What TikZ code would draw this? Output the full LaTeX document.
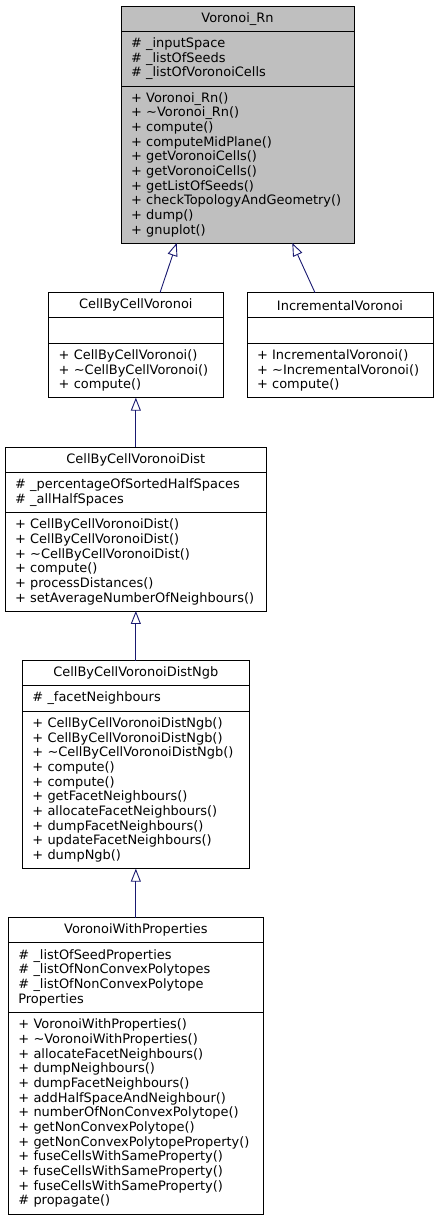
\documentclass[tikz,border=0pt]{standalone}
\usepackage{fontspec}
\setmainfont{DejaVu Sans}
\usepackage{tikz}
\usetikzlibrary{arrows.meta, positioning}
\definecolor{edgeblue}{RGB}{25,25,112}
\definecolor{highlight}{RGB}{191,191,191}
\tikzstyle{classbox} = [rectangle, draw=black, line width=0.9pt, inner xsep=10pt, inner ysep=0pt, outer sep=0pt, font=\fontsize{12.95}{14.67}\selectfont]
\tikzstyle{classtitle} = [classbox, align=center, minimum height=25pt]
\tikzstyle{members} = [classbox, align=left]
\tikzstyle{inherit} = [edgeblue, line width=0.9pt, -{Triangle[open, length=13pt, width=10pt]}]

\begin{document}
\begin{tikzpicture}[x=1pt, y=1pt, node distance = 49.6pt]
		\useasboundingbox (0,0) rectangle (438,1220);
		\node (VoronoiRn) [classtitle, fill=highlight, text width=213pt, minimum height=25.7pt, anchor=north] at (237.5,1214) {Voronoi\_Rn};
		\node (VoronoiRnAttr) [members, fill=highlight, text width=213pt, minimum height=54.3pt, below = 0pt of VoronoiRn] {\# \_inputSpace\\\# \_listOfSeeds\\\# \_listOfVoronoiCells};
		\node (VoronoiRnOps) [members, fill=highlight, text width=213pt, minimum height=157pt, below = 0pt of VoronoiRnAttr] {+ Voronoi\_Rn()\\+ \textasciitilde Voronoi\_Rn()\\+ compute()\\+ computeMidPlane()\\+ getVoronoiCells()\\+ getVoronoiCells()\\+ getListOfSeeds()\\+ checkTopologyAndGeometry()\\+ dump()\\+ gnuplot()};
		\node (CellByCellVoronoi) [classtitle, text width=154.3pt, anchor=north] at (135.85,927.3) {CellByCellVoronoi};
		\node (CellByCellVoronoiAttr) [members, text width=154.3pt, minimum height=25.6pt, below = 0pt of CellByCellVoronoi] {};
		\node (CellByCellVoronoiOps) [members, text width=154.3pt, minimum height=54.4pt, below = 0pt of CellByCellVoronoiAttr] {+ CellByCellVoronoi()\\+ \textasciitilde CellByCellVoronoi()\\+ compute()};
		\node (IncrementalVoronoi) [classtitle, text width=166pt, right = 24pt of CellByCellVoronoi] {IncrementalVoronoi};
		\node (IncrementalVoronoiAttr) [members, text width=166pt, minimum height=25.6pt, below = 0pt of IncrementalVoronoi] {};
		\node (IncrementalVoronoiOps) [members, text width=166pt, minimum height=54.4pt, below = 0pt of IncrementalVoronoiAttr] {+ IncrementalVoronoi()\\+ \textasciitilde IncrementalVoronoi()\\+ compute()};
		\node (CellByCellVoronoiDist) [classtitle, text width=241.7pt, minimum height=25.4pt, below = of CellByCellVoronoiOps] {CellByCellVoronoiDist};
		\node (CellByCellVoronoiDistAttr) [members, text width=241.7pt, minimum height=40pt, below = 0pt of CellByCellVoronoiDist] {\# \_percentageOfSortedHalfSpaces\\\# \_allHalfSpaces};
		\node (CellByCellVoronoiDistOps) [members, text width=241.7pt, minimum height=98.3pt, below = 0pt of CellByCellVoronoiDistAttr] {+ CellByCellVoronoiDist()\\+ CellByCellVoronoiDist()\\+ \textasciitilde CellByCellVoronoiDist()\\+ compute()\\+ processDistances()\\+ setAverageNumberOfNeighbours()};
		\node (CellByCellVoronoiDistNgb) [classtitle, text width=207pt, below = 49.7pt of CellByCellVoronoiDistOps] {CellByCellVoronoiDistNgb};
		\node (CellByCellVoronoiDistNgbAttr) [members, text width=207pt, minimum height=25.3pt, below = 0pt of CellByCellVoronoiDistNgb] {\# \_facetNeighbours};
		\node (CellByCellVoronoiDistNgbOps) [members, text width=207pt, minimum height=157.7pt, below = 0pt of CellByCellVoronoiDistNgbAttr] {+ CellByCellVoronoiDistNgb()\\+ CellByCellVoronoiDistNgb()\\+ \textasciitilde CellByCellVoronoiDistNgb()\\+ compute()\\+ compute()\\+ getFacetNeighbours()\\+ allocateFacetNeighbours()\\+ dumpFacetNeighbours()\\+ updateFacetNeighbours()\\+ dumpNgb()};
		\node (VoronoiWithProperties) [classtitle, text width=235pt, below = 49pt of CellByCellVoronoiDistNgbOps] {VoronoiWithProperties};
		\node (VoronoiWithPropertiesAttr) [members, text width=235pt, minimum height=70pt, below = 0pt of VoronoiWithProperties] {\# \_listOfSeedProperties\\\# \_listOfNonConvexPolytopes\\\# \_listOfNonConvexPolytope\\Properties};
		\node (VoronoiWithPropertiesOps) [members, text width=235pt, minimum height=201.3pt, below = 0pt of VoronoiWithPropertiesAttr] {+ VoronoiWithProperties()\\+ \textasciitilde VoronoiWithProperties()\\+ allocateFacetNeighbours()\\+ dumpNeighbours()\\+ dumpFacetNeighbours()\\+ addHalfSpaceAndNeighbour()\\+ numberOfNonConvexPolytope()\\+ getNonConvexPolytope()\\+ getNonConvexPolytopeProperty()\\+ fuseCellsWithSameProperty()\\+ fuseCellsWithSameProperty()\\+ fuseCellsWithSameProperty()\\\# propagate()};
		\draw [inherit] ([xshift=24.15pt]CellByCellVoronoi.north) -- ([xshift=-60.8pt]VoronoiRnOps.south);
		\draw [inherit] ([xshift=-25pt]IncrementalVoronoi.north) -- ([xshift=54.8pt]VoronoiRnOps.south);
		\draw [inherit] (CellByCellVoronoiDist) -- (CellByCellVoronoiOps.south);
		\draw [inherit] (CellByCellVoronoiDistNgb) -- (CellByCellVoronoiDistOps.south);
		\draw [inherit] (VoronoiWithProperties) -- (CellByCellVoronoiDistNgbOps.south);
\end{tikzpicture}
\end{document}
